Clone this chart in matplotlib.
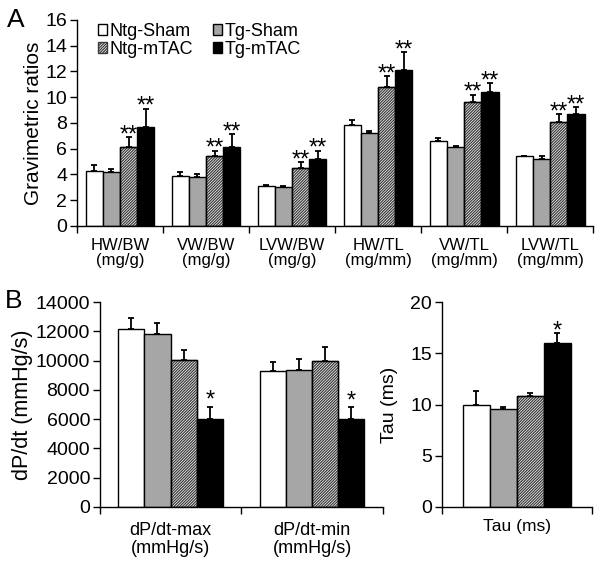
import numpy as np
import matplotlib.pyplot as plt

plt.rcParams['font.family'] = ['Liberation Sans', 'DejaVu Sans']
plt.rcParams['hatch.linewidth'] = 0.9

# -------------------------
# Data
# -------------------------
groups = ["Ntg-Sham", "Tg-Sham", "Ntg-mTAC", "Tg-mTAC"]

grav_labels = ["HW/BW\n(mg/g)", "VW/BW\n(mg/g)", "LVW/BW\n(mg/g)",
               "HW/TL\n(mg/mm)", "VW/TL\n(mg/mm)", "LVW/TL\n(mg/mm)"]
grav_ntg_sham = [4.3, 3.9, 3.1, 7.8, 6.6, 5.4]
grav_tg_sham = [4.2, 3.8, 3.0, 7.2, 6.1, 5.2]
grav_ntg_mtac = [6.1, 5.4, 4.5, 10.8, 9.6, 8.1]
grav_tg_mtac = [7.7, 6.1, 5.2, 12.1, 10.4, 8.7]
grav_err_ntg_sham = [0.4, 0.3, 0.1, 0.45, 0.2, 0.05]
grav_err_tg_sham = [0.2, 0.2, 0.1, 0.2, 0.1, 0.2]
grav_err_ntg_mtac = [0.8, 0.45, 0.45, 0.8, 0.6, 0.6]
grav_err_tg_mtac = [1.4, 1.0, 0.65, 1.4, 0.7, 0.5]
grav_stars = ["", "", "**", "**"]

dpdt_labels = ["dP/dt-max\n(mmHg/s)", "dP/dt-min\n(mmHg/s)"]
dpdt_ntg_sham = [12200, 9300]
dpdt_tg_sham = [11800, 9350]
dpdt_ntg_mtac = [10050, 10000]
dpdt_tg_mtac = [6000, 6000]
dpdt_err_ntg_sham = [700, 600]
dpdt_err_tg_sham = [800, 750]
dpdt_err_ntg_mtac = [650, 950]
dpdt_err_tg_mtac = [850, 800]
dpdt_stars = ["", "", "", "*"]

tau_labels = ["Tau (ms)"]
tau_ntg_sham = [10.0]
tau_tg_sham = [9.55]
tau_ntg_mtac = [10.85]
tau_tg_mtac = [16.0]
tau_err_ntg_sham = [1.35]
tau_err_tg_sham = [0.25]
tau_err_ntg_mtac = [0.25]
tau_err_tg_mtac = [0.95]
tau_stars = ["", "", "", "*"]

# -------------------------
# Styles
# -------------------------
styles = [
    dict(facecolor="white", hatch=None),
    dict(facecolor="#a6a6a6", hatch=None),
    dict(facecolor="white", hatch="////////////"),
    dict(facecolor="black", hatch=None),
]


def draw_bars(ax, values, errs, stars, width, star_size, star_off):
    n = len(values[0])
    x = np.arange(n)
    offsets = (np.arange(4) - 1.5) * width
    handles = []
    for i in range(4):
        bars = ax.bar(x + offsets[i], values[i], width, color=styles[i]["facecolor"],
                      hatch=styles[i]["hatch"], edgecolor="black", linewidth=1.0,
                      label=groups[i], zorder=2)
        if styles[i]["hatch"]:
            for b in bars:
                b.set_edgecolor("#3a3a3a")
            ax.bar(x + offsets[i], values[i], width, fill=False,
                   edgecolor="black", linewidth=1.0, zorder=3)
        handles.append(bars)
        ax.errorbar(x + offsets[i], values[i],
                    yerr=[np.zeros(n), errs[i]], fmt="none",
                    ecolor="black", elinewidth=1.3, capsize=2.5, capthick=1.3, zorder=1)
        if stars[i]:
            for xi, v, e in zip(x + offsets[i], values[i], errs[i]):
                ax.annotate(stars[i], (xi, v + e), xytext=(0, star_off),
                            textcoords="offset points", ha="center", va="baseline",
                            fontsize=star_size)
    return handles


def style_axis(ax, labels, n, xfs, pad, ls):
    ax.spines["top"].set_visible(False)
    ax.spines["right"].set_visible(False)
    ax.spines["left"].set_linewidth(1.0)
    ax.spines["bottom"].set_linewidth(1.0)
    ax.set_xlim(-0.5, n - 0.5)
    ax.set_xticks(np.arange(n))
    ax.set_xticklabels(labels, fontsize=xfs, linespacing=ls)
    ax.tick_params(axis="x", which="major", length=0, pad=pad)
    ax.set_xticks(np.arange(n + 1) - 0.5, minor=True)
    ax.tick_params(axis="x", which="minor", length=5, width=1.0, direction="out")
    ax.tick_params(axis="y", labelsize=14, length=5, width=1.0, direction="out", pad=2)


fig = plt.figure(figsize=(6.01, 5.65), dpi=100)

# -------------------------
# Panel A
# -------------------------
axA = fig.add_axes([0.128, 0.600, 0.859, 0.365])
h = draw_bars(axA, [grav_ntg_sham, grav_tg_sham, grav_ntg_mtac, grav_tg_mtac],
              [grav_err_ntg_sham, grav_err_tg_sham, grav_err_ntg_mtac, grav_err_tg_mtac],
              grav_stars, 0.2, 17, -3)
style_axis(axA, grav_labels, 6, 12, 9, 1.0)
axA.set_ylim(0, 16)
axA.set_yticks(range(0, 17, 2))
axA.set_ylabel("Gravimetric ratios", fontsize=15, labelpad=2)
order = [0, 2, 1, 3]
axA.legend([h[k] for k in order], [groups[k] for k in order], ncol=2,
           loc="upper left", bbox_to_anchor=(0.041, 0.985), frameon=False,
           fontsize=13, handlelength=0.5, handleheight=0.5, handletextpad=0.15,
           columnspacing=1.1, labelspacing=0.05, borderaxespad=0, borderpad=0)
fig.text(0.012, 0.985, "A", fontsize=19, va="top", ha="left")

# -------------------------
# Panel B: dP/dt
# -------------------------
axB = fig.add_axes([0.166, 0.103, 0.471, 0.362])
draw_bars(axB, [dpdt_ntg_sham, dpdt_tg_sham, dpdt_ntg_mtac, dpdt_tg_mtac],
          [dpdt_err_ntg_sham, dpdt_err_tg_sham, dpdt_err_ntg_mtac, dpdt_err_tg_mtac],
          dpdt_stars, 0.185, 17, 0)
style_axis(axB, dpdt_labels, 2, 13, 11, 1.1)
axB.set_ylim(0, 14000)
axB.set_yticks(range(0, 14001, 2000))
axB.set_ylabel("dP/dt (mmHg/s)", fontsize=15.5, labelpad=2)
fig.text(0.008, 0.488, "B", fontsize=19, va="top", ha="left")

# -------------------------
# Panel B: Tau
# -------------------------
axT = fig.add_axes([0.735, 0.103, 0.250, 0.362])
draw_bars(axT, [tau_ntg_sham, tau_tg_sham, tau_ntg_mtac, tau_tg_mtac],
          [tau_err_ntg_sham, tau_err_tg_sham, tau_err_ntg_mtac, tau_err_tg_mtac],
          tau_stars, 0.18, 17, -3)
style_axis(axT, tau_labels, 1, 12.5, 9, 1.0)
axT.set_ylim(0, 20)
axT.set_yticks(range(0, 21, 5))
axT.set_ylabel("Tau (ms)", fontsize=14, labelpad=9)

plt.savefig("out.png", dpi=100)
